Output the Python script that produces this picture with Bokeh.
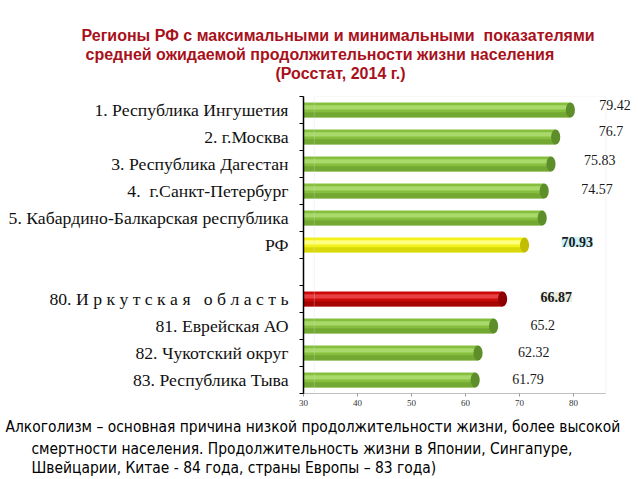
from bokeh.plotting import figure
from bokeh.models import ColumnDataSource, FixedTicker, LabelSet, BoxAnnotation, Title
from bokeh.core.properties import value
from bokeh.embed import file_html
from bokeh.resources import INLINE

# ---- data ----
top_regions = ["1. Республика Ингушетия", "2. г.Москва", "3. Республика Дагестан",
               "4.\u00a0 г.Санкт-Петербург", "5. Кабардино-Балкарская республика"]
top_values = [79.42, 76.7, 75.83, 74.57, 74.2]
top_shown = [True, True, True, True, False]
rf_name = "РФ"
rf_value = 70.93
bottom_regions = ["80. И р к у т с к а я \u00a0 о б л а с т ь", "81. Еврейская АО",
                  "82. Чукотский округ", "83. Республика Тыва"]
bottom_values = [66.87, 65.2, 62.32, 61.79]
x_ticks = [30, 40, 50, 60, 70, 80]

title_lines = ["Регионы РФ с максимальными и минимальными\u00a0 показателями",
               "средней ожидаемой продолжительности жизни населения",
               "(Росстат, 2014 г.)"]
note_lines = ["Алкоголизм – основная причина низкой продолжительности жизни, более высокой",
              "смертности населения. Продолжительность жизни в Японии, Сингапуре,",
              "Швейцарии, Китае - 84 года, страны Европы – 83 года)"]

M = 1          # observed page offset of the canvas
FL = 304       # page x of the frame's left edge
FR = 632       # page x of the frame's right edge
FT = 97        # page y of frame top
FB = 395       # page y of frame bottom
PX = 5.4       # pixels per unit

names = top_regions + [rf_name, ""] + bottom_regions
n = len(names)
centers = [n - i - 0.5 for i in range(n)]
name_by_center = {c: nm for c, nm in zip(centers, names)}

bar_vals = top_values + [rf_value] + bottom_values
bar_y = centers[:6] + centers[7:]
kinds = ["g"] * 5 + ["y", "r"] + ["g"] * 3
base_col = {"g": "#86bf3e", "y": "#f2f21a", "r": "#cc0a0a"}
hi_col = {"g": "#a9d96b", "y": "#ffff80", "r": "#e84040"}
lo_col = {"g": "#679a2c", "y": "#c8c800", "r": "#8e0000"}
cap_col = {"g": "#5e8e2a", "y": "#c2bd00", "r": "#900000"}

src = ColumnDataSource(dict(
    y=bar_y, v=bar_vals, left=[30] * len(bar_vals),
    base=[base_col[k] for k in kinds], hi=[hi_col[k] for k in kinds],
    lo=[lo_col[k] for k in kinds], cap=[cap_col[k] for k in kinds],
    yhi=[y + 0.1 for y in bar_y], ylo=[y - 0.18 for y in bar_y],
))

W = FR - M
H = 477
x_end = 30 + (FR - FL) / PX
p = figure(width=W, height=H, x_range=(30, x_end), y_range=(0, n),
           output_backend="svg", toolbar_location=None,
           min_border_left=FL - M, min_border_right=0, min_border_top=FT - M,
           min_border_bottom=H - (FB - M))
p.title.text = ""
p.title.standoff = 0
p.title.text_font_size = "0px"
p.xgrid.grid_line_color = None
p.ygrid.grid_line_color = None
p.outline_line_color = None

p.add_layout(BoxAnnotation(left=32, right=86, bottom=0, top=n, fill_color=None,
                           line_color="#d4d4d4", line_width=1))

bh = 0.56
p.hbar(y="y", left="left", right="v", height=bh, source=src, fill_color="base", line_color=None)
p.hbar(y="yhi", left="left", right="v", height=0.16, source=src, fill_color="hi", line_color=None)
p.hbar(y="ylo", left="left", right="v", height=0.2, source=src, fill_color="lo", line_color=None, fill_alpha=0.6)
p.ellipse(x="v", y="y", width=1.7, height=bh, source=src, fill_color="cap", line_color=None)

# value labels (label placement as in the original slide)
lab_style = dict(text_font=value("Liberation Serif"), text_font_size="14px",
                 text_baseline="middle", text_color="#1a1a1a")
label_offsets = {0: (29, 5), 1: (43, 6), 2: (33, 4), 3: (37, 2), 5: (37, 3),
                 6: (38, 2), 7: (37, 1), 8: (40, 1), 9: (37, 1)}
boxed = {5: "#ccf3fa", 6: "#e9eee0"}
for i, (dx, dy) in label_offsets.items():
    s = ColumnDataSource(dict(x=[bar_vals[i]], y=[bar_y[i]], t=["%g" % bar_vals[i]]))
    extra = {}
    if i in boxed:
        extra = dict(text_font_style="bold", background_fill_color=boxed[i], border_line_color=None)
    p.add_layout(LabelSet(x="x", y="y", text="t", source=s, x_offset=dx, y_offset=dy,
                          **lab_style, **extra))

xa = p.xaxis[0]
xa.ticker = FixedTicker(ticks=x_ticks)
xa.bounds = (30, 86)
xa.axis_line_color = "#bdbdbd"
xa.major_tick_line_color = "#9a9a9a"
xa.major_tick_in = 0
xa.major_tick_out = 3
xa.minor_tick_line_color = None
xa.major_label_text_font = "Liberation Serif"
xa.major_label_text_font_size = "9px"
xa.major_label_text_color = "#333333"
xa.major_label_standoff = 3

ya = p.yaxis[0]
ya.ticker = FixedTicker(ticks=centers, minor_ticks=list(range(n + 1)))
ya.major_label_overrides = name_by_center
ya.major_tick_out = 0
ya.major_tick_in = 0
ya.minor_tick_out = 4
ya.minor_tick_in = 0
ya.minor_tick_line_color = "black"
ya.axis_line_color = "black"
ya.axis_line_width = 1.5
ya.major_label_text_font = "Liberation Serif"
ya.major_label_text_font_size = "17.7px"
ya.major_label_text_color = "#111111"
ya.major_label_standoff = 11

# ---- titles above and note below (first added = closest to the frame) ----
def add_text(side, text, start_x, standoff, size, font, style, color):
    p.add_layout(Title(text=text, align="left", offset=start_x - FL, standoff=standoff,
                       vertical_align="middle", text_font=font, text_font_size=size,
                       text_font_style=style, text_color=color), side)

add_text("above", "\u00a0", FL, 2, "9px", "Liberation Sans", "normal", "#ffffff")
add_text("above", title_lines[2], 276, 0, "16px", "Liberation Sans", "bold", "#a8111b")
add_text("above", title_lines[1], 86, 0, "16px", "Liberation Sans", "bold", "#a8111b")
add_text("above", title_lines[0], 82, 0, "16px", "Liberation Sans", "bold", "#a8111b")

add_text("below", "\u00a0", FL, 0, "4px", "DejaVu Sans Condensed", "normal", "#ffffff")
add_text("below", note_lines[0], 6, 3, "15.4px", "DejaVu Sans Condensed", "normal", "#000000")
add_text("below", note_lines[1], 32, 0, "15.4px", "DejaVu Sans Condensed", "normal", "#000000")
add_text("below", note_lines[2], 32, -1, "15.4px", "DejaVu Sans Condensed", "normal", "#000000")

open("out.html", "w").write(file_html(p, INLINE))
